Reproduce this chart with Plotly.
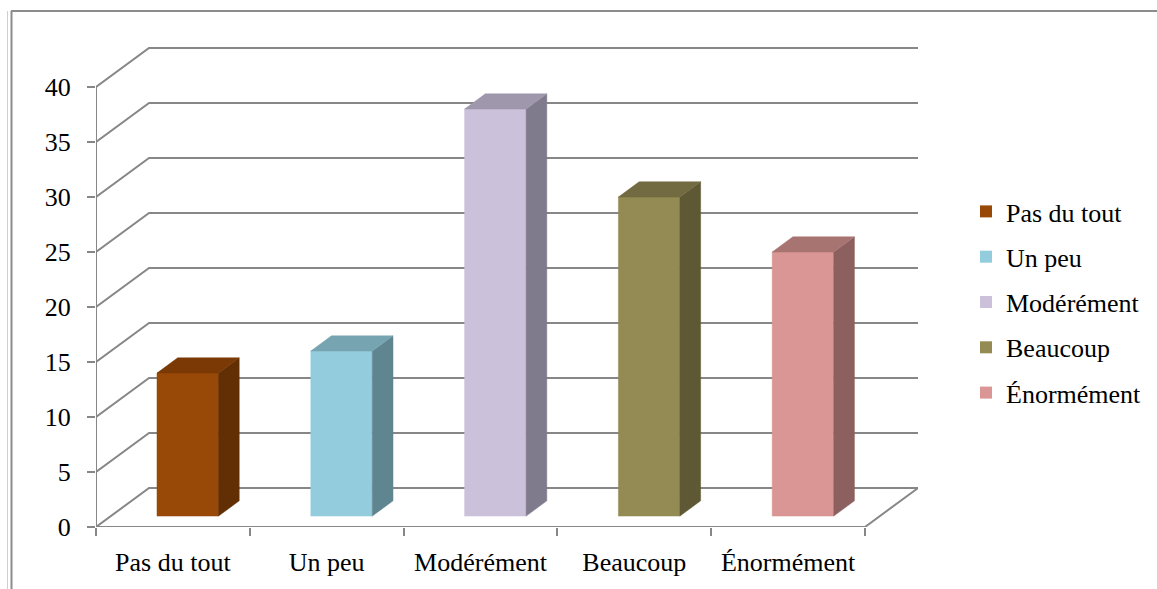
import plotly.graph_objects as go

# Survey answers and their counts
categories = ["Pas du tout", "Un peu", "Modérément", "Beaucoup", "Énormément"]
values = [13, 15, 37, 29, 24]
y_ticks = [0, 5, 10, 15, 20, 25, 30, 35, 40]

# Face colours of each 3-D column: front, top, right side
front_colors = ["#984807", "#93CDDD", "#CCC1DA", "#948A54", "#D99694"]
top_colors = ["#7A3905", "#76A4B1", "#9F97AB", "#726A41", "#A87472"]
side_colors = ["#622E04", "#5F8590", "#807B8C", "#5E5834", "#8C605F"]

# Oblique projection of the depth axis, in data units
DEPTH_X = 0.345
DEPTH_Y = 3.55
BAR_FRONT = 0.28   # depth fraction of the column's front face
BAR_BACK = 0.67    # depth fraction of the column's back face
BAR_HALF = 0.2     # half width of a column, in category units

GRID = "#878787"
FONT = "Liberation Serif"
text_font = dict(family=FONT, size=26, color="black")

n = len(categories)
y_max = max(y_ticks)
fig = go.Figure()

# Back wall, side wall and floor grid lines
gx, gy = [], []
for v in y_ticks:
    gx += [0, DEPTH_X, n + DEPTH_X, None]
    gy += [v, v + DEPTH_Y, v + DEPTH_Y, None]
# floor front edge and right edge
gx += [0, n, n + DEPTH_X, None]
gy += [0, 0, DEPTH_Y, None]
# front value axis
gx += [0, 0]
gy += [0, y_max]
fig.add_trace(go.Scatter(x=gx, y=gy, mode="lines", line=dict(color=GRID, width=2),
                         hoverinfo="skip", showlegend=False, cliponaxis=False))


def poly(xs, ys, color):
    fig.add_trace(go.Scatter(x=xs + [xs[0]], y=ys + [ys[0]], mode="lines", fill="toself",
                             fillcolor=color, line=dict(color=color, width=0.5),
                             hoverinfo="skip", showlegend=False))


# 3-D columns
for i, (v, fc, tc, sc) in enumerate(zip(values, front_colors, top_colors, side_colors)):
    c = i + 0.5
    fx0 = c - BAR_HALF + BAR_FRONT * DEPTH_X
    fx1 = c + BAR_HALF + BAR_FRONT * DEPTH_X
    fy0 = BAR_FRONT * DEPTH_Y
    fy1 = v + BAR_FRONT * DEPTH_Y
    bx0 = c - BAR_HALF + BAR_BACK * DEPTH_X
    bx1 = c + BAR_HALF + BAR_BACK * DEPTH_X
    by0 = BAR_BACK * DEPTH_Y
    by1 = v + BAR_BACK * DEPTH_Y
    poly([fx0, fx1, fx1, fx0], [fy0, fy0, fy1, fy1], fc)
    poly([fx1, bx1, bx1, fx1], [fy0, by0, by1, fy1], sc)
    poly([fx0, fx1, bx1, bx0], [fy1, fy1, by1, by1], tc)

# Legend entries
for i, (name, fc) in enumerate(zip(categories, front_colors)):
    fig.add_trace(go.Scatter(x=[None], y=[None], mode="markers", name=name,
                             marker=dict(symbol="square", size=14, color=fc),
                             legendgroup=f"g{i}", showlegend=True))

PLOT_L, PLOT_R, PLOT_T, PLOT_B = 96, 918, 47, 527
W, H = 1157, 589
px_per_x = 153.8
px_per_y = 11.0
x_range = [0, (PLOT_R - PLOT_L) / px_per_x]
y_range = [0, (PLOT_B - PLOT_T) / px_per_y]


def paper_x(px):
    return (px - PLOT_L) / (PLOT_R - PLOT_L)


def paper_y(py):
    return (PLOT_B - py) / (PLOT_B - PLOT_T)


frame = dict(color="#8C8C8C", width=2)
fig.update_layout(
    width=W, height=H,
    margin=dict(l=PLOT_L, r=W - PLOT_R, t=PLOT_T, b=H - PLOT_B, pad=0, autoexpand=False),
    paper_bgcolor="white", plot_bgcolor="white",
    font=text_font,
    xaxis=dict(range=x_range, showgrid=False, zeroline=False, showline=False,
               tickmode="array", tickvals=[i + 0.5 for i in range(n)], ticktext=categories,
               tickfont=text_font,
               ticks="outside", ticklen=0, tickcolor="white",
               minor=dict(tickmode="array", tickvals=list(range(n + 1)), ticks="outside",
                          ticklen=8, tickwidth=2, tickcolor=GRID),
               ticklabelstandoff=12, fixedrange=True),
    yaxis=dict(range=y_range, showgrid=False, zeroline=False, showline=False,
               tickmode="array", tickvals=y_ticks, ticktext=[str(t) for t in y_ticks],
               tickfont=text_font,
               ticks="outside", ticklen=8, tickwidth=2, tickcolor=GRID,
               ticklabelstandoff=11, fixedrange=True),
    legend=dict(xref="container", yref="container", x=966 / W, y=1 - 188 / H,
                xanchor="left", yanchor="top", font=text_font,
                tracegroupgap=8.5, itemsizing="constant", bgcolor="rgba(0,0,0,0)"),
    shapes=[
        dict(type="line", xref="paper", yref="paper", x0=paper_x(11), x1=paper_x(1160),
             y0=paper_y(11), y1=paper_y(11), line=frame),
        dict(type="line", xref="paper", yref="paper", x0=paper_x(11.5), x1=paper_x(11.5),
             y0=paper_y(11), y1=paper_y(600), line=frame),
        dict(type="line", xref="paper", yref="paper", x0=paper_x(7.5), x1=paper_x(7.5),
             y0=paper_y(11), y1=paper_y(600), line=dict(color="#CFCFCF", width=1)),
    ],
)

fig.write_html("out.html")
